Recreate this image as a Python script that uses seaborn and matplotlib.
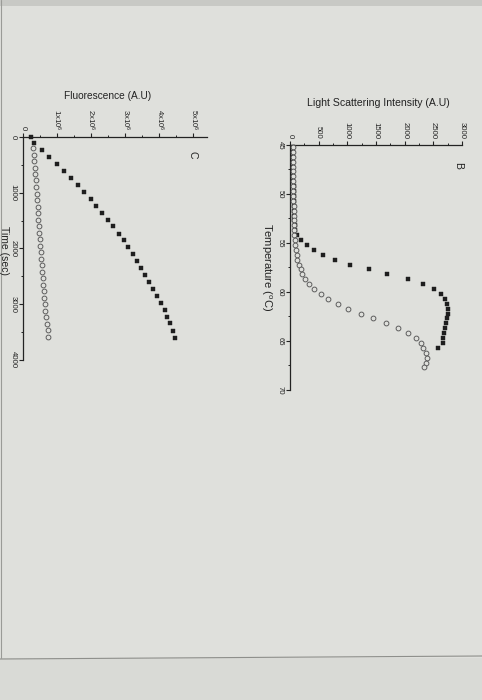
import matplotlib
matplotlib.use('Agg')
import matplotlib.pyplot as plt
import seaborn as sns
import pandas as pd
from matplotlib.ticker import MultipleLocator, FixedLocator, FixedFormatter
from matplotlib.lines import Line2D
from matplotlib.patches import Rectangle

sns.set_theme(style='white')
plt.rcParams['font.family'] = ['Liberation Sans', 'DejaVu Sans']
plt.rcParams['mathtext.fontset'] = 'custom'
plt.rcParams['mathtext.rm'] = 'Liberation Sans'
plt.rcParams['mathtext.it'] = 'Liberation Sans'

# ---------------- Panel B data (temperature vs light scattering) ----------------
temp_sq = [45.2, 45.7, 46.2, 46.7, 47.2, 47.7, 48.2, 48.7, 49.2, 49.7, 50.2, 50.7,
           51.2, 51.7, 52.2, 52.7, 53.2, 53.7, 54.2, 54.7, 55.2, 55.7, 56.2, 56.7,
           57.2, 57.7, 58.2, 58.7, 59.2, 59.7, 60.2, 60.7, 61.2, 61.7, 62.2, 62.7,
           63.2, 63.7, 64.2, 64.7, 65.2, 65.7]
int_sq = [58, 58, 59, 59, 60, 60, 61, 61, 62, 63, 64, 65,
          66, 68, 70, 74, 80, 92, 130, 200, 300, 415, 570, 790,
          1040, 1370, 1690, 2060, 2320, 2510, 2630, 2695, 2735, 2750, 2750, 2735,
          2720, 2705, 2690, 2675, 2660, 2575]

temp_ci = [45.2, 45.7, 46.2, 46.7, 47.2, 47.7, 48.2, 48.7, 49.2, 49.7, 50.2, 50.7,
           51.2, 51.7, 52.2, 52.7, 53.2, 53.7, 54.2, 54.7, 55.2, 55.7, 56.2, 56.7,
           57.2, 57.7, 58.2, 58.7, 59.2, 59.7, 60.2, 60.7, 61.2, 61.7, 62.2, 62.7,
           63.2, 63.7, 64.2, 64.7, 65.2, 65.7, 66.2, 66.7, 67.2, 67.7]
int_ci = [55, 55, 56, 56, 57, 57, 58, 58, 59, 60, 60, 61,
          62, 63, 64, 66, 68, 72, 78, 86, 95, 105, 115, 128,
          157, 186, 215, 262, 331, 424, 541, 669, 843, 1017, 1238, 1453,
          1674, 1878, 2052, 2197, 2285, 2325, 2366, 2384, 2372, 2330]

# ---------------- Panel C data (time vs fluorescence) ----------------
time_sq = [0, 110, 230, 360, 485, 610, 735, 860, 985, 1110, 1235, 1360, 1485, 1605, 1735,
           1855, 1975, 2100, 2230, 2355, 2475, 2605, 2725, 2850, 2980, 3105, 3225, 3345,
           3475, 3600]
fluo_sq = [0.24e6, 0.33e6, 0.55e6, 0.76e6, 0.99e6, 1.21e6, 1.41e6, 1.61e6, 1.80e6, 1.99e6,
           2.15e6, 2.31e6, 2.49e6, 2.64e6, 2.82e6, 2.95e6, 3.08e6, 3.22e6, 3.34e6, 3.47e6,
           3.59e6, 3.71e6, 3.81e6, 3.93e6, 4.05e6, 4.16e6, 4.24e6, 4.32e6, 4.40e6, 4.47e6]
time_ci = [200, 315, 430, 550, 665, 780, 900, 1015, 1130, 1250, 1365, 1480, 1600, 1715,
           1830, 1950, 2065, 2180, 2300, 2415, 2530, 2650, 2765, 2880, 3000, 3115, 3230,
           3350, 3465, 3590]
fluo_ci = [0.30e6, 0.31e6, 0.33e6, 0.34e6, 0.36e6, 0.37e6, 0.38e6, 0.40e6, 0.41e6, 0.43e6,
           0.44e6, 0.45e6, 0.47e6, 0.48e6, 0.50e6, 0.51e6, 0.52e6, 0.54e6, 0.55e6, 0.57e6,
           0.58e6, 0.60e6, 0.61e6, 0.63e6, 0.64e6, 0.66e6, 0.68e6, 0.70e6, 0.72e6, 0.74e6]

fluo_ticks = [0, 1e6, 2e6, 3e6, 4e6, 5e6]
fluo_ticklabels = ['0', '1x10$^6$', '2x10$^6$', '3x10$^6$', '4x10$^6$', '5x10$^6$']
int_ticks = [0, 500, 1000, 1500, 2000, 2500, 3000]
temp_ticks = [45, 50, 55, 60, 65, 70]
time_ticks = [0, 1000, 2000, 3000, 4000]

PAGE = '#dfe0dc'
INK = '#232323'
W, H = 482, 700

fig = plt.figure(figsize=(4.82, 7.0), dpi=100)
fig.patch.set_facecolor(PAGE)
fig.add_artist(Rectangle((0, 0), 1, 1 - 658 / H, transform=fig.transFigure,
                         facecolor='#d9dad6', edgecolor='none', zorder=-10))
fig.add_artist(Rectangle((0, 1 - 6 / H), 1, 6 / H, transform=fig.transFigure,
                         facecolor='#c8c9c5', edgecolor='none', zorder=-10))
fig.add_artist(Line2D([0, 1], [1 - 659 / H, 1 - 656 / H], transform=fig.transFigure,
                      color='#8e8f8b', lw=0.8))
fig.add_artist(Line2D([0.003, 0.003], [1 - 658 / H, 1], transform=fig.transFigure,
                      color='#9a9b97', lw=0.8))


def style_axes(ax):
    ax.set_facecolor('none')
    for s in ['bottom', 'right']:
        ax.spines[s].set_visible(False)
    for s in ['top', 'left']:
        ax.spines[s].set_color(INK)
        ax.spines[s].set_linewidth(0.9)
    ax.xaxis.tick_top()
    ax.tick_params(axis='both', which='major', direction='out', length=3, width=0.8,
                   colors=INK, labelsize=5.6, pad=1.5)
    ax.tick_params(axis='both', which='minor', direction='out', length=1.8, width=0.7,
                   colors=INK)
    ax.tick_params(axis='x', which='both', top=True, bottom=False, labeltop=True, labelbottom=False)
    ax.tick_params(axis='y', which='both', left=True, right=False)
    for lab in ax.get_xticklabels():
        lab.set_rotation(-90)
        lab.set_va('bottom')
        lab.set_ha('center')
    for lab in ax.get_yticklabels():
        lab.set_rotation(-90)
        lab.set_va('center')
        lab.set_ha('right')
    ax.set_xlabel('')
    ax.set_ylabel('')
    ax.grid(False)


# ---------------- Panel B ----------------
axB = fig.add_axes([290 / W, 1 - 390 / H, 172 / W, (390 - 145) / H])
dfB_sq = pd.DataFrame({'T': temp_sq, 'I': int_sq})
dfB_ci = pd.DataFrame({'T': temp_ci, 'I': int_ci})
sns.scatterplot(data=dfB_sq, x='I', y='T', marker='s', s=10, color='#1e1e1e',
                edgecolor='#1e1e1e', linewidth=0.3, ax=axB, zorder=3, clip_on=False)
sns.scatterplot(data=dfB_ci, x='I', y='T', marker='o', s=12, facecolor=PAGE,
                edgecolor='#555555', linewidth=0.65, ax=axB, zorder=4, clip_on=False)
axB.set_xlim(0, 3000)
axB.set_ylim(70, 45)
axB.xaxis.set_major_locator(FixedLocator(int_ticks))
axB.xaxis.set_minor_locator(MultipleLocator(250))
axB.yaxis.set_major_locator(FixedLocator(temp_ticks))
axB.yaxis.set_minor_locator(MultipleLocator(2.5))
style_axes(axB)

# ---------------- Panel C ----------------
axC = fig.add_axes([23 / W, 1 - 360 / H, 184 / W, (360 - 137) / H])
dfC_sq = pd.DataFrame({'t': time_sq, 'F': fluo_sq})
dfC_ci = pd.DataFrame({'t': time_ci, 'F': fluo_ci})
sns.scatterplot(data=dfC_sq, x='F', y='t', marker='s', s=11, color='#1e1e1e',
                edgecolor='#1e1e1e', linewidth=0.3, ax=axC, zorder=3, clip_on=False)
sns.scatterplot(data=dfC_ci, x='F', y='t', marker='o', s=12, facecolor=PAGE,
                edgecolor='#555555', linewidth=0.65, ax=axC, zorder=4, clip_on=False)
axC.set_xlim(0, 5.4e6)
axC.set_ylim(4000, 0)
axC.xaxis.set_major_locator(FixedLocator(fluo_ticks))
axC.xaxis.set_major_formatter(FixedFormatter(fluo_ticklabels))
axC.xaxis.set_minor_locator(MultipleLocator(0.5e6))
axC.yaxis.set_major_locator(FixedLocator(time_ticks))
axC.yaxis.set_minor_locator(MultipleLocator(500))
style_axes(axC)

# ---------------- Labels ----------------
fig.text(378 / W, 1 - 103 / H, 'Light Scattering Intensity (A.U)', ha='center', va='center',
         fontsize=7.6, color=INK)
fig.text(458 / W, 1 - 165 / H, 'B', ha='center', va='center', rotation=-90, fontsize=7.5, color=INK)
fig.text(266 / W, 1 - 267 / H, 'Temperature ($^{o}$C)', ha='center', va='center', rotation=-90,
         fontsize=8, color=INK)
fig.text(108 / W, 1 - 96 / H, 'Fluorescence (A.U)', ha='center', va='center',
         fontsize=7.3, color=INK)
fig.text(193 / W, 1 - 155 / H, 'C', ha='center', va='center', rotation=-90, fontsize=7.5, color=INK)
fig.text(4 / W, 1 - 250 / H, 'Time (sec)', ha='center', va='center', rotation=-90,
         fontsize=7.5, color=INK)

fig.savefig('out.png', dpi=100, facecolor=fig.get_facecolor())
